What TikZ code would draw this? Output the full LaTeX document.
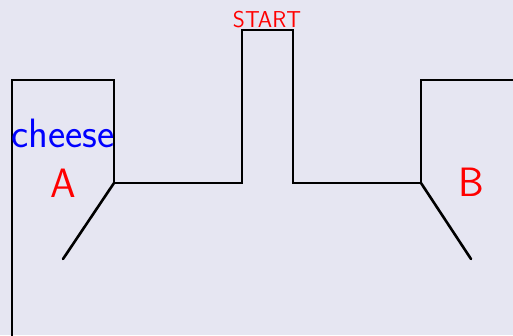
\documentclass[tikz,border=0pt]{standalone}
\usepackage{xcolor}
\definecolor{bgpaper}{RGB}{230,230,242}
\begin{document}
\begin{tikzpicture}[x=1pt,y=-1pt,
  wall/.style={line width=2.6pt,line cap=round,line join=miter},
  lbl/.style={font=\sffamily\fontsize{41}{41}\selectfont,text=red,inner sep=0pt},
  cheeselbl/.style={font=\sffamily\fontsize{41}{41}\selectfont,text=blue,inner sep=0pt},
  startlbl/.style={font=\sffamily\fontsize{23}{23}\selectfont,text=red,inner sep=0pt}]
  % paper
  \fill[bgpaper] (0,0) rectangle (513,335);
  \useasboundingbox (0,0) rectangle (513,335);
  % maze corridors
  \coordinate (lb) at (12,340);
  \coordinate (la) at (114,183);
  \coordinate (rb) at (421,183);
  \coordinate (re) at (520,80);
  \coordinate (da) at (63,259);
  \coordinate (db) at (471,259);
  \draw[wall] (lb) -- (12,80) -- (114,80) -- (la) -- (242,183) -- (242,30)
    -- (293,30) -- (293,183) -- (rb) -- (421,80) -- (re);
  \draw[wall] (la) -- (da);
  \draw[wall] (rb) -- (db);
  % labels
  \node[cheeselbl,anchor=base] (cheese) at (63,147) {cheese};
  \node[lbl,anchor=base] (A) at (63,197) {A};
  \node[lbl,anchor=base] (B) at (471,196) {B};
  \node[startlbl,anchor=base] (start) at (267,27) {START};
\end{tikzpicture}
\end{document}
